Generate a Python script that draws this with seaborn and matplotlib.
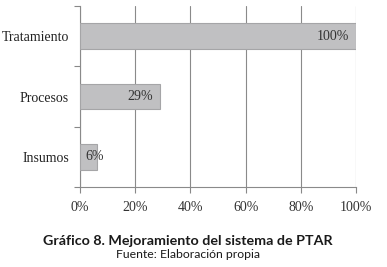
import matplotlib
matplotlib.use("Agg")
import matplotlib.pyplot as plt
import seaborn as sns
import pandas as pd
from matplotlib.ticker import FixedLocator

categories = ["Tratamiento", "Procesos", "Insumos"]
values = [100, 29, 6]
xticks = [0, 20, 40, 60, 80, 100]
xtick_labels = ["0%", "20%", "40%", "60%", "80%", "100%"]
bar_labels = ["100%", "29%", "6%"]

df = pd.DataFrame({"cat": categories, "val": values})

sns.set_theme(style="white")
plt.rcParams['font.family'] = ['Liberation Serif', 'DejaVu Serif']

fig = plt.figure(figsize=(3.87, 2.67), dpi=100)
ax = fig.add_axes([80/387, 1-187/267, 276/387, 181/267])

sns.barplot(data=df, x="val", y="cat", orient="h", ax=ax, color="#c0c0c2",
            saturation=1, width=0.42, edgecolor="#a5a5a7", linewidth=0.8, zorder=3)

ax.set_xlim(0, 100)
ax.set_ylim(2.5, -0.5)
ax.set_xticks(xticks)
ax.set_xticklabels(xtick_labels, fontsize=10, color="#333333")
ax.set_yticks(range(len(categories)))
ax.set_yticklabels(categories, fontsize=10, color="#222222")
ax.yaxis.set_minor_locator(FixedLocator([-0.5, 0.5, 1.5, 2.5]))
ax.tick_params(axis='y', which='major', length=0, pad=8)
ax.tick_params(axis='y', which='minor', length=4, color="#888888", width=0.8, left=True)
ax.tick_params(axis='x', which='major', length=4, color="#888888", width=0.8, bottom=True, pad=6)
ax.set_xlabel("")
ax.set_ylabel("")
ax.grid(axis='x', color="#8a8a8a", linewidth=0.8, zorder=0)
ax.grid(axis='y', visible=False)
for s in ["top", "right"]:
    ax.spines[s].set_visible(False)
for s in ["left", "bottom"]:
    ax.spines[s].set_color("#8a8a8a")
    ax.spines[s].set_linewidth(0.8)

for i, (v, lab) in enumerate(zip(values, bar_labels)):
    if v > 15:
        ax.annotate(lab, (v, i), xytext=(-5, 0), textcoords="offset points",
                    ha="right", va="center", fontsize=10, color="#333333", zorder=5)
    else:
        ax.annotate(lab, (0, i), xytext=(4, 0), textcoords="offset points",
                    ha="left", va="center", fontsize=10, color="#333333", zorder=5)

fig.text(188/387, 1-241/267, "Gráfico 8. Mejoramiento del sistema de PTAR",
         ha="center", va="center", fontsize=10.3, fontweight="bold",
         family=["Lato", "DejaVu Sans"], color="#1a1a1a")
fig.text(188/387, 1-255/267, "Fuente: Elaboración propia",
         ha="center", va="center", fontsize=8.8, family=["Lato", "DejaVu Sans"], color="#1a1a1a")

fig.savefig("out.png", dpi=100)
